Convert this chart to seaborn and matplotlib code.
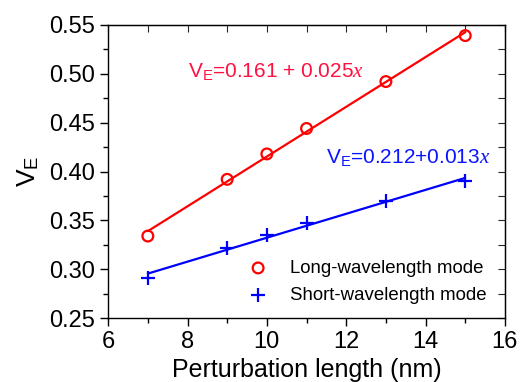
import numpy as np
import pandas as pd
import seaborn as sns
import matplotlib.pyplot as plt
from matplotlib.ticker import MultipleLocator

length = [7, 9, 10, 11, 13, 15]
long_mode = [0.334, 0.392, 0.418, 0.444, 0.492, 0.539]
short_mode = [0.291, 0.322, 0.335, 0.347, 0.370, 0.390]
long_label = "Long-wavelength mode"
short_label = "Short-wavelength mode"
long_eq = r"V$_\mathregular{E}$=0.161 + 0.025$\mathit{x}$"
short_eq = r"V$_\mathregular{E}$=0.212+0.013$\mathit{x}$"

df = pd.DataFrame({
    "length": length * 2,
    "VE": long_mode + short_mode,
    "mode": [long_label] * len(length) + [short_label] * len(length),
})

sns.set_style("ticks")
plt.rcParams['font.family'] = ['Liberation Sans', 'DejaVu Sans']
plt.rcParams['text.color'] = 'black'
plt.rcParams['axes.labelcolor'] = 'black'
plt.rcParams['mathtext.fontset'] = 'custom'
plt.rcParams['mathtext.rm'] = 'Liberation Sans'
plt.rcParams['mathtext.it'] = 'Liberation Serif:italic'

fig, ax = plt.subplots(figsize=(5.2, 3.82), dpi=100)
fig.subplots_adjust(left=0.208, right=0.971, top=0.935, bottom=0.167)

red = "#ff0000"
blue = "#0000ff"

d_long = df[df["mode"] == long_label]
d_short = df[df["mode"] == short_label]

sns.regplot(data=d_long, x="length", y="VE", ax=ax, scatter=False, ci=None,
            color=red, line_kws={"lw": 1.6})
sns.regplot(data=d_short, x="length", y="VE", ax=ax, scatter=False, ci=None,
            color=blue, line_kws={"lw": 1.6})

ax.scatter(d_long["length"], d_long["VE"], s=60, facecolors="none",
           edgecolors=red, linewidths=1.6, label=long_label, zorder=3)
ax.scatter(d_short["length"], d_short["VE"], s=90, marker="+",
           color=blue, linewidths=1.6, label=short_label, zorder=3)

ax.text(8.0, 0.502, long_eq, color="#ff1040", fontsize=15, va="center")
ax.text(11.5, 0.414, short_eq, color="#0a14ff", fontsize=15, va="center")

ax.set_xlim(6, 16)
ax.set_ylim(0.25, 0.55)
ax.xaxis.set_major_locator(MultipleLocator(2))
ax.xaxis.set_minor_locator(MultipleLocator(1))
ax.yaxis.set_major_locator(MultipleLocator(0.05))
ax.yaxis.set_minor_locator(MultipleLocator(0.025))
ax.yaxis.set_major_formatter(plt.FormatStrFormatter('%.2f'))

ax.tick_params(which="both", direction="out", labelsize=17, width=1, colors="black")
ax.tick_params(which="major", length=6)
ax.tick_params(which="minor", length=3.5)
sec_x = ax.secondary_xaxis("top")
sec_x.xaxis.set_major_locator(MultipleLocator(1))
sec_x.tick_params(direction="in", length=5, labeltop=False)
sec_y = ax.secondary_yaxis("right")
sec_y.yaxis.set_major_locator(MultipleLocator(0.025))
sec_y.tick_params(direction="in", length=5, labelright=False)

for sp in ax.spines.values():
    sp.set_color("black")
    sp.set_linewidth(1)

ax.set_xlabel("Perturbation length (nm)", fontsize=18, labelpad=3)
ax.set_ylabel(r"V$_\mathregular{E}$", fontsize=19, labelpad=6)

ax.legend(loc="lower left", bbox_to_anchor=(0.331, 0.05), frameon=False,
          fontsize=13.4, handletextpad=0.72, labelspacing=0.52,
          borderpad=0, borderaxespad=0)

fig.savefig("out.png", dpi=100, facecolor="white")
